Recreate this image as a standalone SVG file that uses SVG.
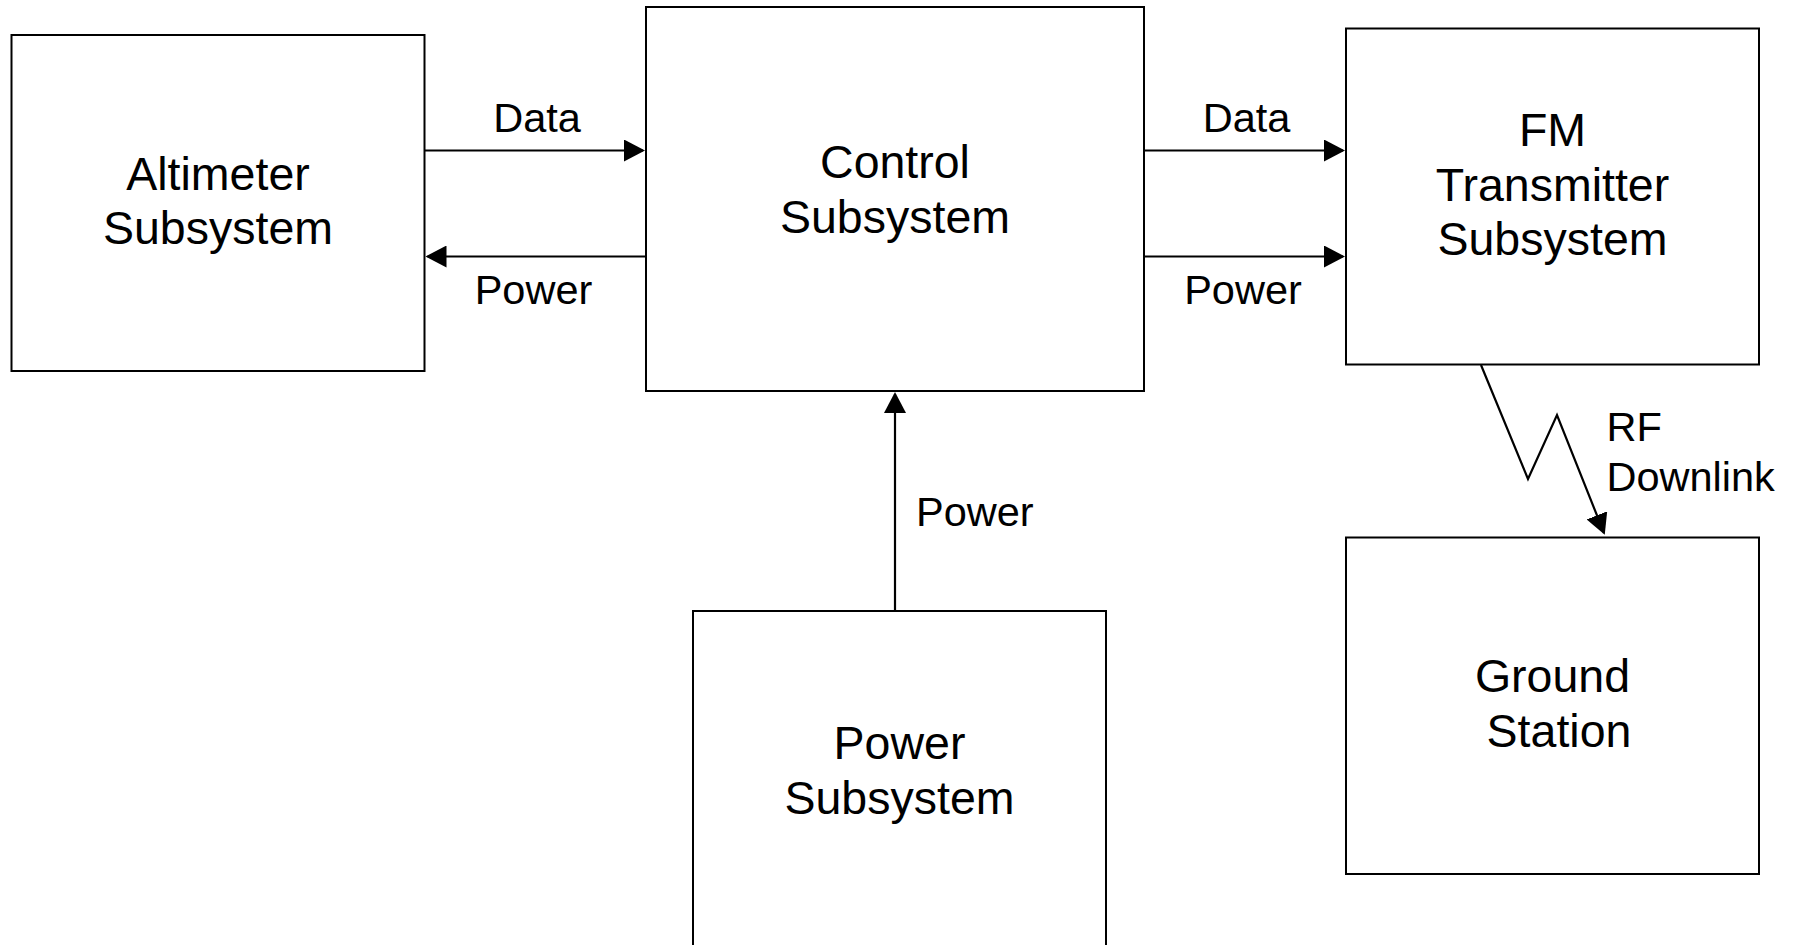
<svg xmlns="http://www.w3.org/2000/svg" width="1799" height="945" viewBox="0 0 1799 945">
<style>
.box{fill:#fff;stroke:#000;stroke-width:2}
.lbl{font-family:"Liberation Sans",Arial,sans-serif;font-size:46.5px;fill:#000;text-anchor:middle}
.al{font-family:"Liberation Sans",Arial,sans-serif;font-size:41.5px;fill:#000}
.c{fill:none;stroke:#000;stroke-width:2.2}
</style>
<defs>
<marker id="ah" markerUnits="userSpaceOnUse" markerWidth="22" markerHeight="22" refX="19" refY="11" orient="auto" viewBox="0 0 22 22">
<path d="M0,0 L21,11 L0,22 z" fill="#000"/>
</marker>
</defs>
<rect width="1799" height="945" fill="#fff"/>
<g id="altimeter">
<rect class="box" x="11.5" y="35" width="413" height="336"/>
<text class="lbl" x="218" y="189.5">Altimeter</text>
<text class="lbl" x="218" y="244">Subsystem</text>
</g>
<g id="control">
<rect class="box" x="646" y="7" width="498" height="384"/>
<text class="lbl" x="895" y="178">Control</text>
<text class="lbl" x="895" y="232.5">Subsystem</text>
</g>
<g id="fm">
<rect class="box" x="1346" y="28.5" width="413" height="336"/>
<text class="lbl" x="1552.5" y="145.5">FM</text>
<text class="lbl" x="1552.5" y="200.5">Transmitter</text>
<text class="lbl" x="1552.5" y="255">Subsystem</text>
</g>
<g id="ground">
<rect class="box" x="1346" y="537.5" width="413" height="336.5"/>
<text class="lbl" x="1552.5" y="691.5">Ground</text>
<text class="lbl" x="1559" y="746.5">Station</text>
</g>
<g id="power">
<rect class="box" x="693" y="611" width="413" height="360"/>
<text class="lbl" x="899.5" y="759">Power</text>
<text class="lbl" x="899.5" y="813.5">Subsystem</text>
</g>
<g id="connectors">
<path class="c" d="M424.5,150.5 L643,150.5" marker-end="url(#ah)"/>
<path class="c" d="M646,256.5 L427.5,256.5" marker-end="url(#ah)"/>
<path class="c" d="M1144,150.5 L1343,150.5" marker-end="url(#ah)"/>
<path class="c" d="M1144,256.5 L1343,256.5" marker-end="url(#ah)"/>
<path class="c" d="M895,611 L895,394" marker-end="url(#ah)"/>
<path class="c" d="M1481,365 L1528,479 L1557,415 L1604,533" stroke-linejoin="miter" marker-end="url(#ah)"/>
<text class="al" x="537" y="131.5" text-anchor="middle">Data</text>
<text class="al" x="533.5" y="304" text-anchor="middle">Power</text>
<text class="al" x="1246.5" y="131.5" text-anchor="middle">Data</text>
<text class="al" x="1243" y="304" text-anchor="middle">Power</text>
<text class="al" x="916" y="526">Power</text>
<text class="al" x="1606.5" y="441">RF</text>
<text class="al" x="1606.5" y="491">Downlink</text>
</g>
</svg>
